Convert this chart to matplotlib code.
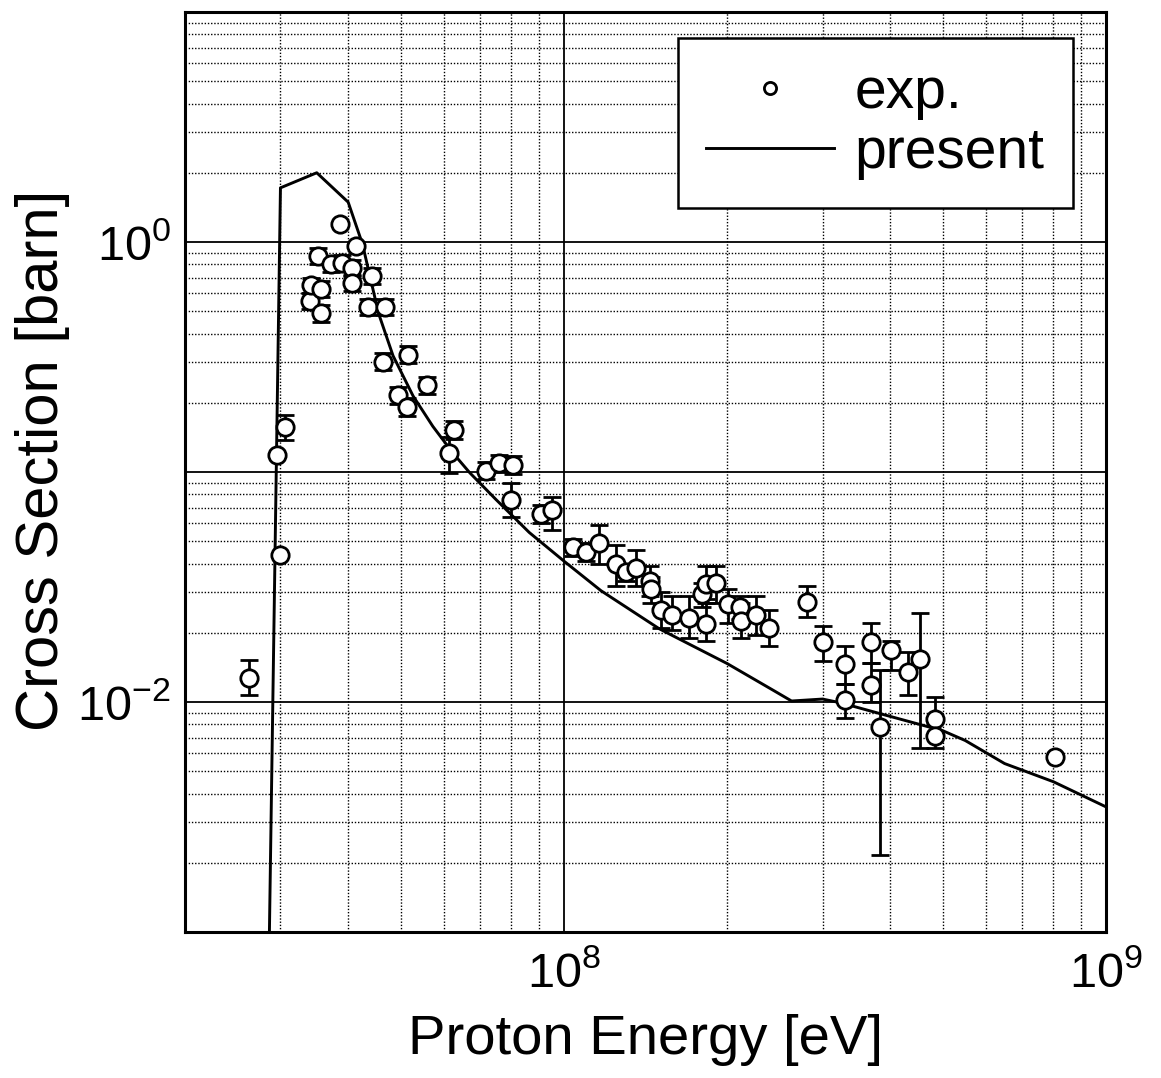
import numpy as np
import matplotlib
matplotlib.use("Agg")
import matplotlib.pyplot as plt
from matplotlib.ticker import LogLocator, FuncFormatter, NullFormatter

plt.rcParams['font.family'] = ['Liberation Sans', 'DejaVu Sans']
plt.rcParams['mathtext.fontset'] = 'custom'
plt.rcParams['mathtext.rm'] = 'Liberation Sans'
plt.rcParams['mathtext.it'] = 'Liberation Sans:italic'

# calculation ("present")
energy_calc = [2.85e7, 3.0e7, 3.5e7, 4.0e7, 4.25e7, 4.55e7, 4.84e7, 5.27e7, 5.73e7, 6.24e7,
               6.7e7, 7.49e7, 8.63e7, 1.0e8, 1.17e8, 1.5e8, 2.0e8, 2.44e8, 2.63e8, 3.0e8,
               3.25e8, 3.83e8, 5.0e8, 5.5e8, 6.5e8, 8.0e8, 1.0e9]
xs_calc = [5e-4, 1.72, 2.0, 1.49, 0.98, 0.49, 0.32, 0.214, 0.158, 0.121,
           0.0994, 0.076, 0.0546, 0.041, 0.0305, 0.0208, 0.0147, 0.0112, 0.0101, 0.0103,
           0.0099, 0.0089, 0.0075, 0.0068, 0.0054, 0.0045, 0.0035]

# measurements ("exp."), error bar ends as absolute values, nan = no bar
energy_exp = [2.62e7, 2.96e7, 3.06e7, 3.00e7, 3.40e7, 3.42e7, 3.52e7, 3.56e7, 3.57e7, 3.72e7,
              3.86e7, 3.89e7, 4.07e7, 4.07e7, 4.14e7, 4.35e7, 4.42e7, 4.63e7, 4.67e7, 4.94e7,
              5.13e7, 5.16e7, 5.59e7, 6.15e7, 6.26e7, 7.17e7, 7.58e7, 7.99e7, 8.05e7, 9.06e7,
              9.50e7, 1.04e8, 1.10e8, 1.16e8, 1.25e8, 1.30e8, 1.36e8, 1.44e8, 1.45e8, 1.51e8,
              1.58e8, 1.70e8, 1.80e8, 1.83e8, 1.83e8, 1.91e8, 2.01e8, 2.11e8, 2.12e8, 2.26e8,
              2.39e8, 2.81e8, 3.01e8, 3.30e8, 3.30e8, 3.68e8, 3.68e8, 3.83e8, 4.02e8, 4.32e8,
              4.54e8, 4.83e8, 4.83e8, 8.04e8]
xs_exp = [0.0127, 0.119, 0.157, 0.0436, 0.554, 0.650, 0.869, 0.625, 0.491, 0.802,
          1.20, 0.810, 0.770, 0.663, 0.960, 0.522, 0.711, 0.302, 0.522, 0.216,
          0.192, 0.323, 0.239, 0.121, 0.152, 0.101, 0.109, 0.0755, 0.107, 0.066,
          0.0684, 0.047, 0.045, 0.049, 0.040, 0.0366, 0.0384, 0.0337, 0.031, 0.025,
          0.024, 0.0233, 0.0295, 0.0218, 0.0325, 0.033, 0.0266, 0.026, 0.0224, 0.0238,
          0.021, 0.0272, 0.0182, 0.0146, 0.0102, 0.0182, 0.0119, 0.0078, 0.0168, 0.0135,
          0.0154, 0.0084, 0.0071, 0.00575]
err_lo = [0.0107, np.nan, 0.138, np.nan, 0.51, 0.60, 0.80, 0.575, 0.45, 0.74,
          np.nan, 0.745, 0.71, 0.61, np.nan, 0.48, 0.655, 0.277, 0.48, 0.198,
          0.176, 0.297, 0.219, 0.099, 0.139, 0.093, 0.100, 0.064, 0.098, 0.060,
          0.056, 0.043, 0.041, 0.040, 0.032, 0.0335, 0.032, 0.029, 0.027, 0.021,
          0.0205, 0.019, 0.026, 0.0185, 0.028, 0.027, 0.022, 0.023, 0.019, 0.0195,
          0.0175, 0.0235, 0.015, 0.012, 0.0085, 0.0148, 0.010, 0.00216, 0.0138, 0.0107,
          0.0063, 0.0072, 0.0063, np.nan]
err_hi = [0.0152, np.nan, 0.177, np.nan, 0.60, 0.70, 0.94, 0.68, 0.53, 0.87,
          np.nan, 0.875, 0.835, 0.72, np.nan, 0.565, 0.77, 0.33, 0.565, 0.235,
          0.209, 0.352, 0.26, 0.142, 0.166, 0.110, 0.119, 0.0893, 0.117, 0.072,
          0.078, 0.051, 0.049, 0.059, 0.048, 0.040, 0.046, 0.039, 0.035, 0.030,
          0.029, 0.029, 0.033, 0.027, 0.039, 0.039, 0.031, 0.029, 0.027, 0.029,
          0.025, 0.032, 0.0215, 0.0175, 0.012, 0.022, 0.0148, 0.0138, 0.0185, 0.0165,
          0.0244, 0.0105, 0.0082, np.nan]

x = np.array(energy_exp)
y = np.array(xs_exp)
lo = np.array(err_lo)
hi = np.array(err_hi)
has_err = ~np.isnan(lo)

fig = plt.figure(figsize=(11.61, 10.78), dpi=100)
ax = fig.add_axes([185 / 1161, 1 - 932 / 1078, 921 / 1161, 920 / 1078])

ax.errorbar(x[has_err], y[has_err], yerr=[y[has_err] - lo[has_err], hi[has_err] - y[has_err]],
            fmt='none', ecolor='black', elinewidth=2.0, capsize=6.5, capthick=2.0, zorder=3)
ax.plot(energy_exp, xs_exp, 'o', ms=12.5, mfc='white', mec='black', mew=2.0, zorder=4, label='exp.')
ax.plot(energy_calc, xs_calc, '-', color='black', lw=2.1, zorder=2, label='present')

ax.set_xscale('log')
ax.set_yscale('log')
ax.set_xlim(2e7, 1e9)
ax.set_ylim(1e-3, 1e1)

ax.xaxis.set_major_locator(LogLocator(base=10, numticks=20))
ax.yaxis.set_major_locator(LogLocator(base=10, numticks=20))
ax.xaxis.set_minor_locator(LogLocator(base=10, subs=np.arange(2, 10), numticks=20))
ax.yaxis.set_minor_locator(LogLocator(base=10, subs=np.arange(2, 10), numticks=20))
ax.xaxis.set_minor_formatter(NullFormatter())
ax.yaxis.set_minor_formatter(NullFormatter())


def fmt_x(v, pos):
    e = int(round(np.log10(v)))
    return r'$\mathregular{10^{%d}}$' % e if e in (8, 9) else ''


def fmt_y(v, pos):
    e = int(round(np.log10(v)))
    return r'$\mathregular{10^{%d}}$' % e if e in (0, -2) else ''


ax.xaxis.set_major_formatter(FuncFormatter(fmt_x))
ax.yaxis.set_major_formatter(FuncFormatter(fmt_y))
ax.tick_params(which='both', length=0, labelsize=35)
ax.tick_params(axis='x', pad=14)
ax.tick_params(axis='y', pad=10)

ax.grid(which='major', color='black', lw=1.3, ls='-', zorder=1)
ax.grid(which='minor', color='black', lw=1.0, ls=(0, (1, 1.3)), zorder=1)
ax.set_axisbelow(True)
for s in ax.spines.values():
    s.set_linewidth(2.2)

ax.set_xlabel('Proton Energy [eV]', fontsize=40.5, labelpad=12)
ax.set_ylabel('Cross Section [barn]', fontsize=43)
ax.yaxis.set_label_coords(-0.125, 0.513)

leg = ax.legend(loc='upper right', bbox_to_anchor=(0.964, 0.972), fontsize=41, markerscale=0.7,
                fancybox=False, framealpha=1, edgecolor='black', handlelength=2.25,
                handletextpad=0.35, borderpad=0.5, labelspacing=0.1, borderaxespad=0)
leg.get_frame().set_linewidth(1.8)

fig.savefig('out.png', dpi=100)
